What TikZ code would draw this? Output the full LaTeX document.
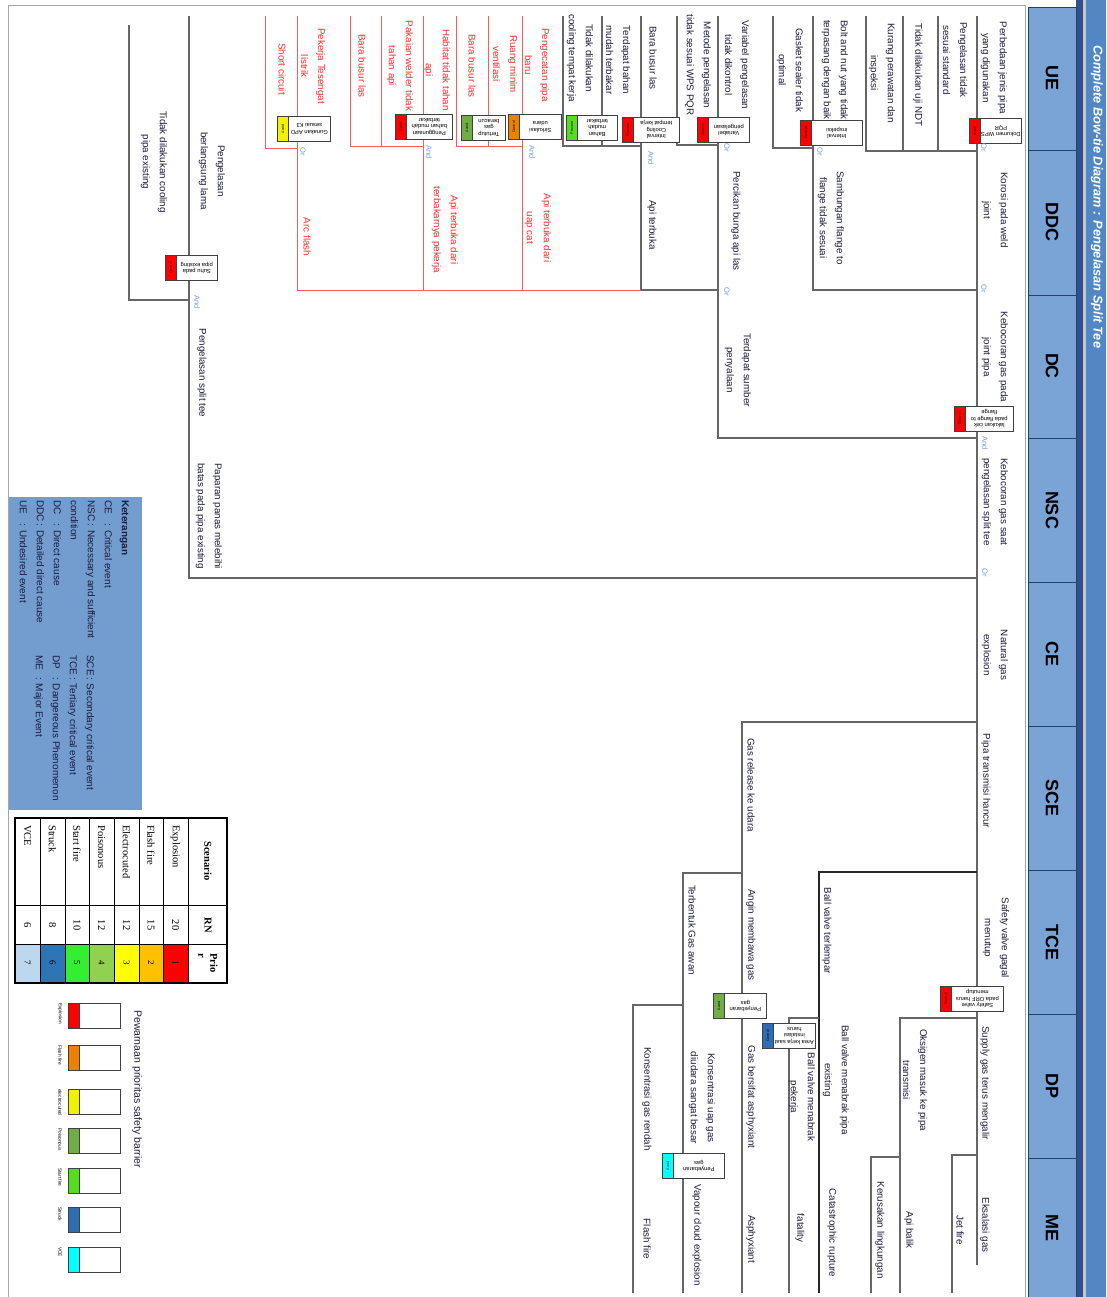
\documentclass[tikz,border=0pt]{standalone}
\usepackage{fontspec}
\setmainfont{Liberation Sans}
\newfontfamily\tabfont{Liberation Serif}
\definecolor{txt}{HTML}{1C1C3C}
\definecolor{redtxt}{HTML}{FF2A2A}
\definecolor{redln}{HTML}{FF5A5A}
\definecolor{linec}{HTML}{666666}
\definecolor{gatec}{HTML}{6C9BD8}
\definecolor{boxc}{HTML}{404040}
\definecolor{hfill}{HTML}{7AA3D6}
\definecolor{hborder}{HTML}{2A3F66}
\definecolor{band}{HTML}{5287C6}
\definecolor{dkband}{HTML}{2F4F8F}
\definecolor{legc}{HTML}{739DCF}
\definecolor{cred}{HTML}{FF0000}
\definecolor{corange}{HTML}{EE8000}
\definecolor{cyellow}{HTML}{F2F200}
\definecolor{cgreen}{HTML}{70AD47}
\definecolor{cbright}{HTML}{55DD22}
\definecolor{cblue}{HTML}{2E6DB4}
\definecolor{ccyan}{HTML}{00FFFF}
\definecolor{p2}{HTML}{FFC000}
\definecolor{p3}{HTML}{FFFF00}
\definecolor{p4}{HTML}{92D050}
\definecolor{p5}{HTML}{33EE33}
\definecolor{p6}{HTML}{2E75B6}
\definecolor{p7}{HTML}{BDD7EE}
\newcommand{\barrier}[7]{%
  \node[bstrip, fill=#5, anchor=north west] (#1s) at (#2,#3) {};
  \node[bstext] (#1t) at (#1s.center) {#6};
  \node[bbody, minimum width=#4pt-11pt, anchor=north west] (#1) at (#2+11,#3) {};
  \node[btext] (#1x) at (#1.center) {#7};
}
\newcommand{\legbox}[4]{%
  \node[bstrip, fill=#3, anchor=north west] (#1s) at (68,#2) {};
  \node[bbody, minimum width=41pt, anchor=north west] (#1) at (79,#2) {};
  \node[leglab, anchor=west] (#1l) at (60,#2) {#4};
}
\begin{document}
\begin{tikzpicture}[x=1pt,y=-1pt,
  lbl/.style={rotate=-90, align=center, font=\fontsize{9.8}{17}\selectfont, text=txt, inner sep=0pt},
  rlbl/.style={lbl, text=redtxt},
  gate/.style={rotate=-90, font=\fontsize{7.5}{8}\selectfont, text=gatec, inner sep=0pt},
  ln/.style={draw=linec, line width=1.2pt},
  rln/.style={draw=redln, line width=0.9pt},
  bln/.style={draw=black!85, line width=1.2pt},
  bstrip/.style={draw=boxc, line width=0.7pt, minimum width=11pt, minimum height=25pt, inner sep=0pt},
  bbody/.style={draw=boxc, line width=0.7pt, fill=white, minimum height=25pt, inner sep=0pt},
  btext/.style={rotate=180, align=center, font=\fontsize{5.8}{6.5}\selectfont, inner sep=0pt},
  bstext/.style={rotate=90, font=\fontsize{3.6}{4}\selectfont, inner sep=0pt},
  leglab/.style={rotate=-90, font=\fontsize{4.8}{5}\selectfont, inner sep=0pt},
  hcell/.style={draw=hborder, fill=hfill, line width=0.8pt},
  hlab/.style={rotate=-90, font=\fontsize{18}{18}\selectfont\bfseries, inner sep=0pt},
  tb/.style={rotate=-90, font=\tabfont\fontsize{10.5}{12}\selectfont, inner sep=0pt},
]
\useasboundingbox (0,0) rectangle (1106,1297);
\fill[white] (0,0) rectangle (1106,1297);

% ---------------- header band ----------------
\fill[band] (1086,0) rectangle (1106,1297);
\fill[gray!45] (1083,0) rectangle (1086,1297);
\fill[dkband] (1076,0) rectangle (1083,1297);
\node[rotate=-90, anchor=west, text=white, font=\fontsize{12.8}{13}\selectfont\bfseries\itshape, inner sep=0pt] (title) at (1097,45) {Complete Bow-tie Diagram : Pengelasan Split Tee};
\draw[hcell] (1028,7) rectangle (1076,150);
\draw[hcell] (1028,150) rectangle (1076,295);
\draw[hcell] (1028,295) rectangle (1076,438);
\draw[hcell] (1028,438) rectangle (1076,582);
\draw[hcell] (1028,582) rectangle (1076,726);
\draw[hcell] (1028,726) rectangle (1076,870);
\draw[hcell] (1028,870) rectangle (1076,1014);
\draw[hcell] (1028,1014) rectangle (1076,1158);
\draw[hcell] (1028,1158) rectangle (1076,1300);
\node[hlab] (hUE) at (1052,78) {UE};
\node[hlab] (hDDC) at (1052,222) {DDC};
\node[hlab] (hDC) at (1052,366) {DC};
\node[hlab] (hNSC) at (1052,510) {NSC};
\node[hlab] (hCE) at (1052,654) {CE};
\node[hlab] (hSCE) at (1052,798) {SCE};
\node[hlab] (hTCE) at (1052,942) {TCE};
\node[hlab] (hDP) at (1052,1086) {DP};
\node[hlab] (hME) at (1052,1228) {ME};

% ---------------- panel frame ----------------
\draw[gray!70, line width=1pt] (8,1297) -- (8,6) -- (1025,6) -- (1025,1297);

% ---------------- tree lines ----------------
\draw[ln] (977,16) -- (977,1265);
\draw[ln] (866,16) -- (866,151) -- (977,151);
\draw[ln] (903,16) -- (903,151);
\draw[ln] (938,16) -- (938,151);
\draw[ln] (773,16) -- (773,148) -- (813,148);
\draw[ln] (813,16) -- (813,290) -- (977,290);
\draw[ln] (677,16) -- (677,145) -- (718,145);
\draw[ln] (718,16) -- (718,438) -- (977,438);
\draw[ln] (563,16) -- (563,146) -- (641,146);
\draw[ln] (602,16) -- (602,146);
\draw[ln] (641,16) -- (641,290) -- (718,290);
\draw[rln] (456,16) -- (456,146) -- (522,146);
\draw[rln] (488,16) -- (488,146);
\draw[rln] (522,16) -- (522,290);
\draw[rln] (350,16) -- (350,146) -- (423,146);
\draw[rln] (381,16) -- (381,146);
\draw[rln] (423,16) -- (423,290);
\draw[rln] (265,16) -- (265,148) -- (297,148);
\draw[rln] (297,16) -- (297,290) -- (641,290);
\draw[ln] (129,25) -- (129,300) -- (189,300);
\draw[ln] (189,16) -- (189,578) -- (977,578);
\draw[ln] (977,722) -- (742,722) -- (742,1293);
\draw[ln] (742,873) -- (683,873) -- (683,1293);
\draw[ln] (683,1005) -- (633,1005) -- (633,1293);
\draw[bln] (977,872) -- (819,872) -- (819,1293);
\draw[ln] (819,1018) -- (789,1018) -- (789,1293);
\draw[ln] (977,1018) -- (900,1018) -- (900,1293);
\draw[ln] (900,1157) -- (871,1157) -- (871,1293);
\draw[ln] (977,1155) -- (952,1155) -- (952,1293);

% ---------------- barriers ----------------
\barrier{b1}{969}{118}{52}{cred}{Avoid}{Dokumen WPS\\PQR}
\barrier{b2}{800}{120}{62}{cred}{Control}{Interval\\inspeksi}
\barrier{b3}{954}{406}{59}{cred}{Control}{lakukan cek\\pada flange to\\flange}
\barrier{b4}{697}{117}{52}{cred}{Control}{Variabel\\pengelasan}
\barrier{b5}{622}{117}{57}{cred}{Prevent}{Interval\\Cooling\\tempat kerja}
\barrier{b6}{566}{115}{51}{cbright}{Prevent}{Bahan\\mudah\\terbakar}
\barrier{b7}{508}{114}{53}{corange}{Control}{Sirkulasi\\udara}
\barrier{b8}{461}{115}{44}{cgreen}{Avoid}{Tertutup\\gas\\beracun}
\barrier{b9}{395}{114}{57}{cred}{Avoid}{Penggunaan\\bahan mudah\\terbakar}
\barrier{b10}{277}{116}{53}{cyellow}{Avoid}{Gunakan APD\\sesuai K3}
\barrier{b11}{165}{255}{52}{cred}{Control}{Suhu pada\\pipa existing}
\barrier{b12}{940}{986}{63}{cred}{Control}{Safety valve\\pada ORF harus\\menutup}
\barrier{b13}{713}{993}{53}{cgreen}{Avoid}{Penyebaran\\gas}
\barrier{b14}{762}{1023}{53}{cblue}{Control}{Area kerja saat\\instalasi\\harus}
\barrier{b15}{662}{1153}{62}{ccyan}{Avoid}{Penyebaran\\gas}

% ---------------- labels ----------------
\node[lbl] (perbedaan) at (994,68) {Perbedaan jenis pipa\\yang digunakan};
\node[lbl] (korosi) at (995,210) {Korosi pada weld\\joint};
\node[lbl] (bocorjoint) at (995,357) {Kebocoran gas pada\\joint pipa};
\node[lbl] (bocorsaat) at (995,502) {Kebocoran gas saat\\pengelasan split tee};
\node[lbl] (natgas) at (995,655) {Natural gas\\explosion};
\node[lbl] (pipahancur) at (986,781) {Pipa transmisi hancur};
\node[lbl] (safetyvalve) at (996,938) {Safety valve gagal\\menutup};
\node[lbl] (supply) at (985,1083) {Supply gas terus mengalir};
\node[lbl] (eskalasi) at (985,1225) {Eksalasi gas};

\node[lbl] (tidakstd) at (955,60) {Pengelasan tidak\\sesuai standard};
\node[lbl] (ndt) at (918,75) {Tidak dilakukan uji NDT};
\node[lbl] (kurang) at (882,73) {Kurang perawatan dan\\inspeksi};
\node[lbl] (bolt) at (835,70) {Bolt and nut yang tidak\\terpasang dengan baik};
\node[lbl] (gasket) at (790,70) {Gasket sealer tidak\\optimal};
\node[lbl] (sambungan) at (831,218) {Sambungan flange to\\flange tidak sesuai};
\node[lbl] (variabel) at (737,65) {Variabel pengelasan\\tidak dikontrol};
\node[lbl] (metode) at (698,65) {Metode pengelasan\\tidak sesuai WPS PQR};
\node[lbl] (percikan) at (736,221) {Percikan bunga api las};
\node[lbl] (sumber) at (738,370) {Terdapat sumber\\penyalaan};
\node[lbl] (bara1) at (653,58) {Bara busur las};
\node[lbl] (bahan) at (618,60) {Terdapat bahan\\mudah terbakar};
\node[lbl] (cooling) at (580,58) {Tidak dilakukan\\cooling tempat kerja};
\node[lbl] (apiterbuka) at (652,225) {Api terbuka};

\node[rlbl] (pengecatan) at (537,65) {Pengecatan pipa\\baru};
\node[rlbl] (ruang) at (505,64) {Ruang minim\\ventilasi};
\node[rlbl] (bara2) at (472,66) {Bara busur las};
\node[rlbl] (uapcat) at (538,228) {Api terbuka dari\\uap cat};
\node[rlbl] (habitat) at (437,70) {Habitat tidak tahan\\api};
\node[rlbl] (apipekerja) at (445,230) {Api terbuka dari\\terbakarnya pekerja};
\node[rlbl] (pakaian) at (400,66) {Pakaian welder tidak\\tahan api};
\node[rlbl] (bara3) at (362,66) {Bara busur las};
\node[rlbl] (tesengat) at (313,66) {Pekerja Tesengat\\listrik};
\node[rlbl] (short) at (282,69) {Short circuit};
\node[rlbl] (arcflash) at (307,237) {Arc flash};

\node[lbl] (lama) at (212,171) {Pengelasan\\berlangsung lama};
\node[lbl] (coolingpipa) at (154,162) {Tidak dilakukan cooling\\pipa existing};
\node[lbl] (splittee) at (202,373) {Pengelasan split tee};
\node[lbl] (paparan) at (209,516) {Paparan panas melebihi\\batas pada pipa existing};

\node[lbl] (release) at (751,785) {Gas release ke udara};
\node[lbl] (angin) at (751,935) {Angin membawa gas};
\node[lbl] (awan) at (692,930) {Terbentuk Gas awan};
\node[lbl] (terlempar) at (827,931) {Ball valve terlempar};
\node[lbl] (oksigen) at (915,1080) {Oksigen masuk ke pipa\\transmisi};
\node[lbl] (jetfire) at (960,1230) {Jet fire};
\node[lbl] (apibalik) at (909,1230) {Api balik};
\node[lbl] (lingkungan) at (880,1230) {Kerusakan lingkungan};
\node[lbl] (tabrakpipa) at (836,1080) {Ball valve menabrak pipa\\existing};
\node[lbl] (rupture) at (832,1233) {Catastrophic rupture};
\node[lbl] (tabrakpekerja) at (802,1097) {Ball valve menabrak\\pekerja};
\node[lbl] (fatality) at (800,1228) {fatality};
\node[lbl] (asphyx) at (751,1097) {Gas bersifat asphyxiant};
\node[lbl] (asphyxme) at (751,1239) {Asphyxiant};
\node[lbl] (uapgas) at (702,1098) {Konsentrasi uap gas\\diudara sangat besar};
\node[lbl] (vce) at (697,1235) {Vapour cloud explosion};
\node[lbl] (rendah) at (647,1099) {Konsentrasi gas rendah};
\node[lbl] (flashfire) at (647,1239) {Flash fire};

% ---------------- gates ----------------
\node[gate] (g1) at (984,148) {Or};
\node[gate] (g2) at (984,289) {Or};
\node[gate] (g3) at (985,443) {And};
\node[gate] (g4) at (985,573) {Or};
\node[gate] (g5) at (820,152) {Or};
\node[gate] (g6) at (727,148) {Or};
\node[gate] (g7) at (727,292) {Or};
\node[gate] (g8) at (651,158) {And};
\node[gate] (g9) at (532,152) {And};
\node[gate] (g10) at (429,152) {And};
\node[gate] (g11) at (303,152) {Or};
\node[gate] (g12) at (197,302) {And};

% ---------------- legend ----------------
\fill[legc] (9,497) rectangle (142,810);
\node[rotate=-90, anchor=north west, inner sep=0pt, text=txt, font=\fontsize{10}{17}\selectfont] (ket1) at (134,500) {%
\begin{tabular}{@{}l@{\,}l@{}}
\multicolumn{2}{@{}l}{\textbf{Keterangan}}\\
CE & : Critical event\\
NSC & : Necessary and sufficient\\
\multicolumn{2}{@{}l}{condition}\\
DC & : Direct cause\\
DDC & : Detailed direct cause\\
UE & : Undesired event
\end{tabular}};
\node[rotate=-90, anchor=north west, inner sep=0pt, text=txt, font=\fontsize{10}{17}\selectfont] (ket2) at (99,655) {%
\begin{tabular}{@{}l@{\,}l@{}}
SCE & : Secondary critical event\\
TCE & : Tertiary critical event\\
DP & : Dangereous Phenomenon\\
ME & : Major Event
\end{tabular}};

% ---------------- scenario table ----------------
\fill[cred] (163,944) rectangle (188,983);
\fill[p2] (139,944) rectangle (163,983);
\fill[p3] (114,944) rectangle (139,983);
\fill[p4] (89,944) rectangle (114,983);
\fill[p5] (65,944) rectangle (89,983);
\fill[p6] (40,944) rectangle (65,983);
\fill[p7] (15,944) rectangle (40,983);
\draw[black, line width=0.6pt] (188,818) -- (188,983) (163,818) -- (163,983) (139,818) -- (139,983)
  (114,818) -- (114,983) (89,818) -- (89,983) (65,818) -- (65,983) (40,818) -- (40,983)
  (15,905) -- (227,905) (15,944) -- (227,944);
\draw[black, line width=1.2pt] (15,818) rectangle (227,983);
\node[tb, font=\tabfont\fontsize{10.5}{12}\selectfont\bfseries] (hsc) at (208,861) {Scenario};
\node[tb, font=\tabfont\fontsize{10.5}{12}\selectfont\bfseries] (hrn) at (208,925) {RN};
\node[tb, font=\tabfont\fontsize{10.5}{12}\selectfont\bfseries, align=left] (hpr) at (208,963) {Prio\\r};
\node[tb, anchor=west] (s1) at (175.5,825) {Explosion};
\node[tb, anchor=west] (s2) at (151,825) {Flash fire};
\node[tb, anchor=west] (s3) at (126.5,825) {Electrocuted};
\node[tb, anchor=west] (s4) at (101.5,825) {Poisonous};
\node[tb, anchor=west] (s5) at (77,825) {Start fire};
\node[tb, anchor=west] (s6) at (52.5,825) {Struck};
\node[tb, anchor=west] (s7) at (27.5,825) {VCE};
\node[tb] (r1) at (175.5,925) {20};
\node[tb] (r2) at (151,925) {15};
\node[tb] (r3) at (126.5,925) {12};
\node[tb] (r4) at (101.5,925) {12};
\node[tb] (r5) at (77,925) {10};
\node[tb] (r6) at (52.5,925) {8};
\node[tb] (r7) at (27.5,925) {6};
\node[tb, font=\tabfont\fontsize{9}{10}\selectfont] (q1) at (175.5,963) {1};
\node[tb, font=\tabfont\fontsize{9}{10}\selectfont] (q2) at (151,963) {2};
\node[tb, font=\tabfont\fontsize{9}{10}\selectfont] (q3) at (126.5,963) {3};
\node[tb, font=\tabfont\fontsize{9}{10}\selectfont] (q4) at (101.5,963) {4};
\node[tb, font=\tabfont\fontsize{9}{10}\selectfont] (q5) at (77,963) {5};
\node[tb, font=\tabfont\fontsize{9}{10}\selectfont] (q6) at (52.5,963) {6};
\node[tb, font=\tabfont\fontsize{9}{10}\selectfont] (q7) at (27.5,963) {7};

% ---------------- barrier colour legend ----------------
\node[rotate=-90, anchor=west, inner sep=0pt, text=txt, font=\fontsize{10.5}{11}\selectfont] (pewarnaan) at (137,1010) {Pewarnaan prioritas safety barrier};
\legbox{lb1}{1003}{cred}{Explosion}
\legbox{lb2}{1045}{corange}{Flash fire}
\legbox{lb3}{1089}{cyellow}{electrocuted}
\legbox{lb4}{1128}{cgreen}{Poisonous}
\legbox{lb5}{1168}{cbright}{Start fire}
\legbox{lb6}{1207}{cblue}{Struck}
\legbox{lb7}{1247}{ccyan}{VCE}
\end{tikzpicture}
\end{document}
